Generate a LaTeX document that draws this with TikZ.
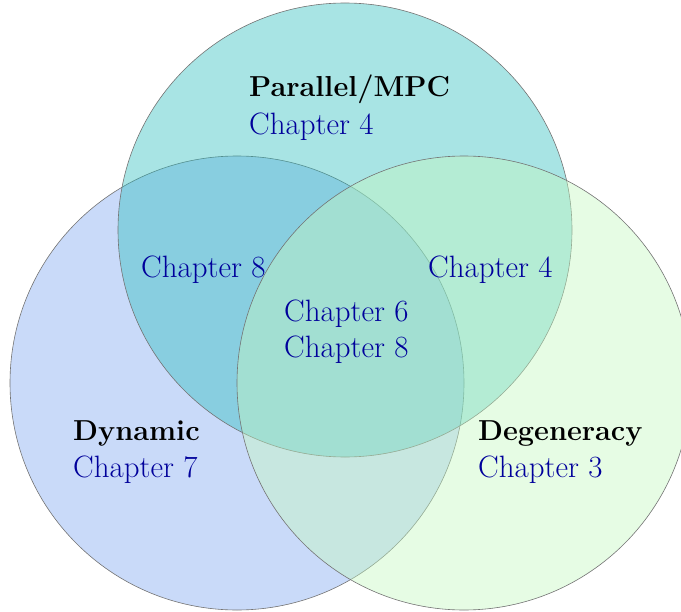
\documentclass[tikz,border=0pt]{standalone}
\usepackage{tikz}
\definecolor{dynfill}{RGB}{100,149,237}
\definecolor{parfill}{RGB}{38,187,187}
\definecolor{degfill}{RGB}{196,248,192}
\definecolor{chapblue}{RGB}{0,0,155}

\begin{document}
\begin{tikzpicture}[x=1bp,y=-1bp]
    \tikzstyle{set}=[draw=black!55,line width=0.6bp]
    \tikzstyle{area}=[anchor=base west,inner sep=0pt,font=\fontsize{29}{38}\selectfont\bfseries]
    \tikzstyle{chap}=[anchor=base west,inner sep=0pt,text=chapblue,font=\fontsize{31}{38}\selectfont]

    \useasboundingbox (0,0) rectangle (681,612);

    % the three sets
    \filldraw[set,fill=dynfill,fill opacity=0.35] (237,383) circle (227bp);
    \filldraw[set,fill=parfill,fill opacity=0.4] (345,230) circle (227bp);
    \filldraw[set,fill=degfill,fill opacity=0.425] (464,383) circle (227bp);

    \node[area] (par) at (249,97) {Parallel/MPC};
    \node[chap] (parch) at (249,135) {Chapter 4};

    \node[area] (dyn) at (73,440) {Dynamic};
    \node[chap] (dynch) at (73,477) {Chapter 7};

    \node[area] (deg) at (478,440) {Degeneracy};
    \node[chap] (degch) at (478,477) {Chapter 3};

    \node[chap] (pardyn) at (141,277) {Chapter 8};
    \node[chap] (pardeg) at (428,277) {Chapter 4};

    \node[chap] (core) at (284,321) {Chapter 6};
    \node[chap] (core2) at (284,357) {Chapter 8};

\end{tikzpicture}
\end{document}
